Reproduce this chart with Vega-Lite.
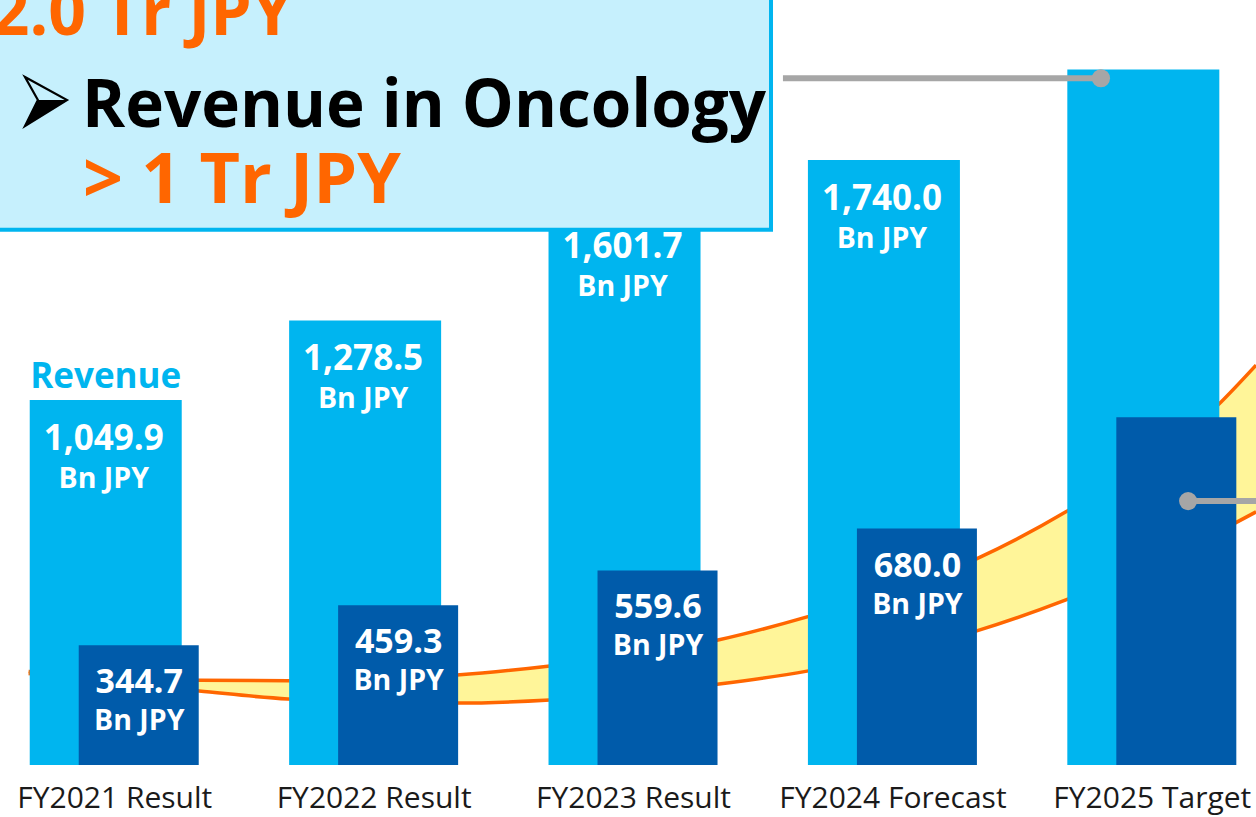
{
  "$schema": "https://vega.github.io/schema/vega-lite/v6.json",
  "width": 1256,
  "height": 765,
  "autosize": {"type": "none"},
  "padding": {"left": 0, "top": 0, "right": 0, "bottom": 52},
  "background": "white",
  "config": {"view": {"stroke": null}, "font": "Open Sans"},
  "datasets": {
    "bars": [
      {"fy": "FY2021 Result", "revenue": 1049.9, "oncology": 344.7},
      {"fy": "FY2022 Result", "revenue": 1278.5, "oncology": 459.3},
      {"fy": "FY2023 Result", "revenue": 1601.7, "oncology": 559.6},
      {"fy": "FY2024 Forecast", "revenue": 1740.0, "oncology": 680.0},
      {"fy": "FY2025 Target", "revenue": 2000, "oncology": 1000}
    ],
    "band": [
      {"i": -0.33, "hi": 269, "lo": 263},
      {"i": 0.327, "hi": 244, "lo": 213},
      {"i": 0.670, "hi": 242, "lo": 190},
      {"i": 1.321, "hi": 259, "lo": 178},
      {"i": 1.680, "hi": 285, "lo": 187},
      {"i": 2.332, "hi": 360, "lo": 233},
      {"i": 2.671, "hi": 426, "lo": 270},
      {"i": 3.322, "hi": 592, "lo": 385},
      {"i": 3.669, "hi": 728, "lo": 475},
      {"i": 4.255, "hi": 1035, "lo": 670},
      {"i": 4.402, "hi": 1150, "lo": 728}
    ]
  },
  "resolve": {"scale": {"x": "independent"}},
  "layer": [
    {
      "data": {"name": "band"},
      "encoding": {
        "x": {"field": "i", "type": "quantitative", "scale": {"domain": [-0.4403, 4.4017], "nice": false, "zero": false}, "axis": null}
      },
      "layer": [
        {
          "mark": {"type": "area", "color": "#FFF599", "interpolate": "monotone", "clip": true},
          "encoding": {
            "y": {"field": "hi", "type": "quantitative", "scale": {"domain": [0, 2200]}, "axis": null},
            "y2": {"field": "lo"}
          }
        },
        {
          "mark": {"type": "line", "color": "#FF6600", "strokeWidth": 3.5, "interpolate": "monotone", "clip": true},
          "encoding": {"y": {"field": "hi", "type": "quantitative", "scale": {"domain": [0, 2200]}, "axis": null}}
        },
        {
          "mark": {"type": "line", "color": "#FF6600", "strokeWidth": 3.5, "interpolate": "monotone", "clip": true},
          "encoding": {"y": {"field": "lo", "type": "quantitative", "scale": {"domain": [0, 2200]}, "axis": null}}
        }
      ]
    },
    {
      "data": {"name": "bars"},
      "encoding": {
        "x": {
          "field": "fy", "type": "nominal", "sort": null,
          "scale": {"type": "point", "padding": 0.421, "align": 0.523},
          "axis": {"title": null, "domain": false, "ticks": false, "tickSize": 0, "labelFontSize": 30, "labelFont": "Open Sans", "labelColor": "#1a1a1a", "labelPadding": 18, "labelAngle": 0, "labelLimit": 400, "labelOverlap": false, "grid": false}
        }
      },
      "layer": [
        {
          "mark": {"type": "bar", "color": "#00B5EF", "width": 152, "xOffset": -8.5},
          "encoding": {"y": {"field": "revenue", "type": "quantitative", "scale": {"domain": [0, 2200]}, "axis": null}}
        },
        {
          "mark": {"type": "bar", "color": "#005BAA", "width": 120, "xOffset": 24.5},
          "encoding": {"y": {"field": "oncology", "type": "quantitative", "scale": {"domain": [0, 2200]}, "axis": null}}
        },
        {
          "transform": [{"filter": "datum.fy != 'FY2025 Target'"}],
          "mark": {"type": "text", "color": "white", "fontWeight": "bold", "fontSize": 35, "baseline": "alphabetic", "xOffset": -10.5, "dy": 50},
          "encoding": {
            "y": {"field": "revenue", "type": "quantitative", "scale": {"domain": [0, 2200]}, "axis": null},
            "text": {"field": "revenue", "type": "quantitative", "format": ",.1f"}
          }
        },
        {
          "transform": [{"filter": "datum.fy != 'FY2025 Target'"}],
          "mark": {"type": "text", "color": "white", "fontWeight": "bold", "fontSize": 28.5, "baseline": "alphabetic", "xOffset": -10.5, "dy": 88, "text": "Bn JPY"},
          "encoding": {"y": {"field": "revenue", "type": "quantitative", "scale": {"domain": [0, 2200]}, "axis": null}}
        },
        {
          "transform": [{"filter": "datum.fy != 'FY2025 Target'"}],
          "mark": {"type": "text", "color": "white", "fontWeight": "bold", "fontSize": 34, "baseline": "alphabetic", "xOffset": 25, "dy": 48},
          "encoding": {
            "y": {"field": "oncology", "type": "quantitative", "scale": {"domain": [0, 2200]}, "axis": null},
            "text": {"field": "oncology", "type": "quantitative", "format": ",.1f"}
          }
        },
        {
          "transform": [{"filter": "datum.fy != 'FY2025 Target'"}],
          "mark": {"type": "text", "color": "white", "fontWeight": "bold", "fontSize": 28.5, "baseline": "alphabetic", "xOffset": 25, "dy": 85, "text": "Bn JPY"},
          "encoding": {"y": {"field": "oncology", "type": "quantitative", "scale": {"domain": [0, 2200]}, "axis": null}}
        },
        {
          "transform": [{"filter": "datum.fy == 'FY2021 Result'"}],
          "mark": {"type": "text", "color": "#00B5EF", "fontWeight": "bold", "fontSize": 35, "baseline": "alphabetic", "xOffset": -8.5, "dy": -12, "text": "Revenue"},
          "encoding": {"y": {"field": "revenue", "type": "quantitative", "scale": {"domain": [0, 2200]}, "axis": null}}
        }
      ]
    },
    {
      "data": {"values": [{}]},
      "layer": [
        {
          "mark": {"type": "rect", "fill": "#C6F0FD", "stroke": "#00B5EF", "strokeWidth": 4, "clip": true},
          "encoding": {
            "x": {"datum": -0.6, "type": "quantitative", "scale": {"domain": [-0.4403, 4.4017], "nice": false, "zero": false}, "axis": null},
            "x2": {"datum": 2.532},
            "y": {"datum": 1539, "type": "quantitative", "scale": {"domain": [0, 2200]}, "axis": null},
            "y2": {"datum": 2400}
          }
        },
        {
          "mark": {"type": "text", "text": "2.0 Tr JPY", "color": "#FF6600", "fontWeight": "bold", "fontSize": 66, "align": "right", "baseline": "alphabetic", "clip": true},
          "encoding": {
            "x": {"datum": 0.689, "type": "quantitative", "scale": {"domain": [-0.4403, 4.4017], "nice": false, "zero": false}, "axis": null},
            "y": {"datum": 2099, "type": "quantitative", "scale": {"domain": [0, 2200]}, "axis": null}
          }
        },
        {
          "mark": {"type": "point", "shape": "M-0.857,-1L0.857,-0.06L-0.857,1L-0.33,-0.06Z", "filled": false, "stroke": "black", "strokeWidth": 2.2, "opacity": 1, "size": 2400},
          "encoding": {
            "x": {"datum": -0.263, "type": "quantitative", "scale": {"domain": [-0.4403, 4.4017], "nice": false, "zero": false}, "axis": null},
            "y": {"datum": 1908, "type": "quantitative", "scale": {"domain": [0, 2200]}, "axis": null}
          }
        },
        {
          "mark": {"type": "point", "shape": "M-0.33,-0.06L0.857,-0.06L-0.857,1Z", "filled": true, "fill": "black", "strokeWidth": 0, "opacity": 1, "size": 2400},
          "encoding": {
            "x": {"datum": -0.263, "type": "quantitative", "scale": {"domain": [-0.4403, 4.4017], "nice": false, "zero": false}, "axis": null},
            "y": {"datum": 1908, "type": "quantitative", "scale": {"domain": [0, 2200]}, "axis": null}
          }
        },
        {
          "mark": {"type": "text", "text": "Revenue in Oncology", "color": "black", "fontWeight": "bold", "fontSize": 65.5, "align": "left", "baseline": "alphabetic"},
          "encoding": {
            "x": {"datum": -0.124, "type": "quantitative", "scale": {"domain": [-0.4403, 4.4017], "nice": false, "zero": false}, "axis": null},
            "y": {"datum": 1835, "type": "quantitative", "scale": {"domain": [0, 2200]}, "axis": null}
          }
        },
        {
          "mark": {"type": "text", "text": "> 1 Tr JPY", "color": "#FF6600", "fontWeight": "bold", "fontSize": 70, "align": "left", "baseline": "alphabetic"},
          "encoding": {
            "x": {"datum": -0.12, "type": "quantitative", "scale": {"domain": [-0.4403, 4.4017], "nice": false, "zero": false}, "axis": null},
            "y": {"datum": 1616, "type": "quantitative", "scale": {"domain": [0, 2200]}, "axis": null}
          }
        },
        {
          "mark": {"type": "rule", "color": "#A6A6A6", "strokeWidth": 6},
          "encoding": {
            "x": {"datum": 2.578, "type": "quantitative", "scale": {"domain": [-0.4403, 4.4017], "nice": false, "zero": false}, "axis": null},
            "x2": {"datum": 3.804},
            "y": {"datum": 1975, "type": "quantitative", "scale": {"domain": [0, 2200]}, "axis": null}
          }
        },
        {
          "mark": {"type": "point", "filled": true, "color": "#A6A6A6", "opacity": 1, "size": 330},
          "encoding": {
            "x": {"datum": 3.804, "type": "quantitative", "scale": {"domain": [-0.4403, 4.4017], "nice": false, "zero": false}, "axis": null},
            "y": {"datum": 1975, "type": "quantitative", "scale": {"domain": [0, 2200]}, "axis": null}
          }
        },
        {
          "mark": {"type": "rule", "color": "#A6A6A6", "strokeWidth": 6, "clip": true},
          "encoding": {
            "x": {"datum": 4.14, "type": "quantitative", "scale": {"domain": [-0.4403, 4.4017], "nice": false, "zero": false}, "axis": null},
            "x2": {"datum": 4.5},
            "y": {"datum": 759, "type": "quantitative", "scale": {"domain": [0, 2200]}, "axis": null}
          }
        },
        {
          "mark": {"type": "point", "filled": true, "color": "#A6A6A6", "opacity": 1, "size": 330},
          "encoding": {
            "x": {"datum": 4.14, "type": "quantitative", "scale": {"domain": [-0.4403, 4.4017], "nice": false, "zero": false}, "axis": null},
            "y": {"datum": 759, "type": "quantitative", "scale": {"domain": [0, 2200]}, "axis": null}
          }
        }
      ]
    }
  ]
}
